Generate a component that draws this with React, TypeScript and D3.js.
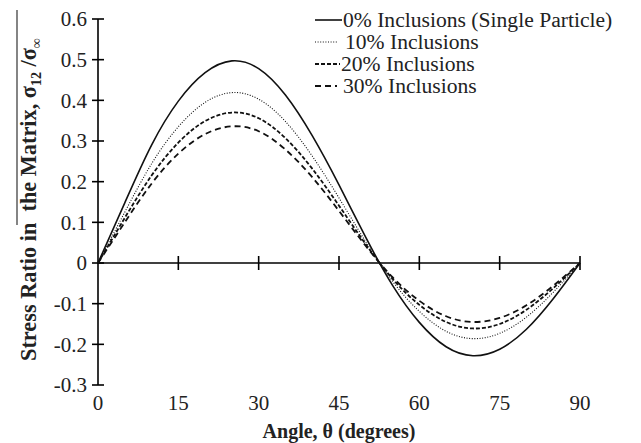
import React from 'react';
import * as d3 from 'd3';

const angles = [0, 5, 10, 15, 20, 25, 30, 35, 40, 45, 50, 55, 60, 65, 70, 75, 80, 85, 90];
const incl0 = [0, 0.148, 0.29, 0.398, 0.468, 0.497, 0.478, 0.413, 0.313, 0.192, 0.063, -0.055, -0.146, -0.206, -0.228, -0.212, -0.163, -0.088, 0];
const incl10 = [0, 0.125, 0.244, 0.335, 0.395, 0.419, 0.403, 0.348, 0.263, 0.16, 0.052, -0.045, -0.119, -0.168, -0.186, -0.173, -0.133, -0.072, 0];
const incl20 = [0, 0.111, 0.215, 0.296, 0.349, 0.37, 0.356, 0.307, 0.232, 0.141, 0.046, -0.039, -0.103, -0.145, -0.161, -0.15, -0.115, -0.062, 0];
const incl30 = [0, 0.1, 0.195, 0.269, 0.317, 0.336, 0.324, 0.279, 0.211, 0.128, 0.042, -0.035, -0.093, -0.131, -0.145, -0.135, -0.104, -0.056, 0];

const seriesNames = ['0% Inclusions (Single Particle)', '10% Inclusions', '20% Inclusions', '30% Inclusions'];
const xTicks = [0, 15, 30, 45, 60, 75, 90];
const yTicks = [0.6, 0.5, 0.4, 0.3, 0.2, 0.1, 0, -0.1, -0.2, -0.3];

const styles = [
  { dash: 'none', width: 1.6, lx2: 342, tx: 343 },
  { dash: '1,1.6', width: 1.1, lx2: 338, tx: 345 },
  { dash: '4,2', width: 1.8, lx2: 340, tx: 341 },
  { dash: '6,4', width: 1.8, lx2: 337, tx: 343 },
];

const FONT = "'Liberation Serif', 'Times New Roman', serif";

export default function App() {
  const x = d3.scaleLinear().domain([0, 90]).range([98, 580]);
  const y = d3.scaleLinear().domain([-0.3, 0.6]).range([385, 19]);
  const line = d3
    .line<number>()
    .x((_, i) => x(angles[i]))
    .y((d) => y(d))
    .curve(d3.curveNatural);
  const series = [incl0, incl10, incl20, incl30];
  const y0 = y(0);
  const legendY = [20, 42, 64, 86];

  return (
    <svg
      width={641}
      height={443}
      style={{ position: 'fixed', left: 0, top: 0, background: '#fff' }}
      fontFamily={FONT}
    >
      <rect width={641} height={443} fill="#fff" />
      {/* axes */}
      <line x1={x(0)} x2={x(0)} y1={y(0.6)} y2={y(-0.3)} stroke="#000" strokeWidth={1.6} />
      <line x1={x(0)} x2={x(90)} y1={y0} y2={y0} stroke="#000" strokeWidth={1.6} />
      {yTicks.map((t) => (
        <g key={'y' + t}>
          <line x1={x(0) - 6} x2={x(0) + 6} y1={y(t)} y2={y(t)} stroke="#000" strokeWidth={1.6} />
          <text x={87} y={y(t)} dy="0.35em" textAnchor="end" fontSize={21} fill="#222">
            {t === 0 ? '0' : t.toFixed(1)}
          </text>
        </g>
      ))}
      {xTicks.map((t) => (
        <g key={'x' + t}>
          {t > 0 && (
            <line x1={x(t)} x2={x(t)} y1={y0 - 7} y2={y0 + 7} stroke="#000" strokeWidth={1.6} />
          )}
          <text x={x(t)} y={410} textAnchor="middle" fontSize={21} fill="#222">
            {t}
          </text>
        </g>
      ))}
      {/* series */}
      {series.map((s, i) => (
        <path
          key={'s' + i}
          d={line(s) || ''}
          fill="none"
          stroke="#111"
          strokeWidth={styles[i].width}
          strokeDasharray={styles[i].dash}
        />
      ))}
      {/* legend */}
      {seriesNames.map((n, i) => (
        <g key={'l' + i}>
          <line
            x1={315}
            x2={styles[i].lx2}
            y1={legendY[i]}
            y2={legendY[i]}
            stroke="#111"
            strokeWidth={styles[i].width}
            strokeDasharray={styles[i].dash}
          />
          <text x={styles[i].tx} y={legendY[i]} dy="0.33em" fontSize={21.6} fill="#222">
            {n}
          </text>
        </g>
      ))}
      {/* axis titles */}
      <text x={339} y={438} textAnchor="middle" fontSize={20} fontWeight="bold" fill="#222">
        Angle, θ (degrees)
      </text>
      <text
        transform="translate(36,361) rotate(-90)"
        textAnchor="start"
        fontSize={22.3}
        fontWeight="bold"
        fill="#222"
        style={{ whiteSpace: 'pre' }}
      >
        {'Stress Ratio in\u00A0 the Matrix, σ'}
        <tspan fontSize={14} dy={5}>12</tspan>
        <tspan dy={-5}>{'\u00A0/σ'}</tspan>
        <tspan fontSize={14} dy={5}>∞</tspan>
      </text>
      <line x1={17} x2={17} y1={10} y2={225} stroke="#333" strokeWidth={1.2} />
    </svg>
  );
}
